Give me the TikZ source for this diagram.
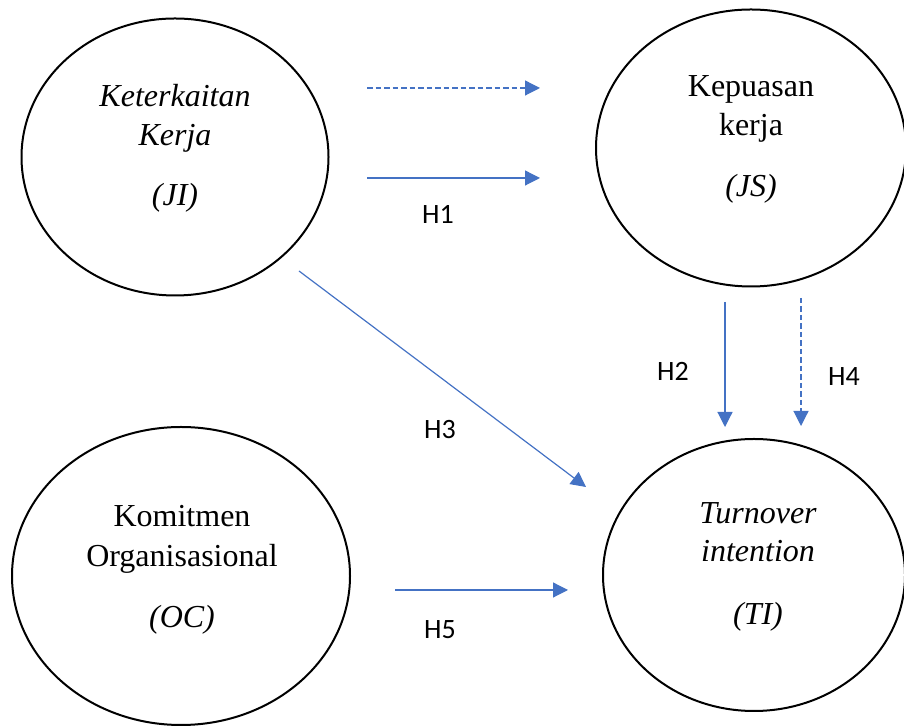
\documentclass[tikz,border=0pt]{standalone}
\usepackage{fontspec}
\setmainfont{Liberation Serif}
\newfontfamily\labfont{Carlito}
\usetikzlibrary{shapes.geometric,arrows.meta}
\definecolor{arrowblue}{HTML}{4472C4}
\tikzset{
  construct/.style={ellipse, draw=black, line width=2pt, inner sep=0pt},
  ctext/.style={anchor=base, inner sep=0pt, font=\fontsize{32}{38}\selectfont},
  hlabel/.style={inner sep=0pt, font=\labfont\fontsize{28}{32}\selectfont},
  link/.style={draw=arrowblue, line width=1.2pt, -{Triangle[length=15pt,width=15pt]}},
  dashlink/.style={link, dash pattern=on 5.5pt off 3pt},
}
\begin{document}
\begin{tikzpicture}[x=1pt,y=1pt]
\useasboundingbox (0,0) rectangle (904,727);
% ellipses (y = 727 - image y)
\node[construct, minimum width=307pt, minimum height=277pt] (JI) at (175,570) {};
\node[construct, minimum width=310pt, minimum height=277pt] (JS) at (751,579) {};
\node[construct, minimum width=338pt, minimum height=298pt] (OC) at (181,151) {};
\node[construct, minimum width=302pt, minimum height=272pt] (TI) at (754,152) {};
% texts
\node[ctext] (ji1) at (175,620) {\itshape Keterkaitan};
\node[ctext] (ji2) at (175,581) {\itshape Kerja};
\node[ctext] (ji3) at (175,521) {\itshape (JI)};
\node[ctext] (js1) at (751,630) {Kepuasan};
\node[ctext] (js2) at (751,591) {kerja};
\node[ctext] (js3) at (751,530) {\itshape (JS)};
\node[ctext] (oc1) at (182,200) {Komitmen};
\node[ctext] (oc2) at (182,160) {Organisasional};
\node[ctext] (oc3) at (182,99) {\itshape (OC)};
\node[ctext] (ti1) at (758,203) {\itshape Turnover};
\node[ctext] (ti2) at (758,165) {\itshape intention};
\node[ctext] (ti3) at (758,102) {\itshape (TI)};
% arrow end points
\coordinate (d1s) at (367,639);
\coordinate (d1e) at (540,639);
\coordinate (h1s) at (367,549);
\coordinate (h1e) at (540,549);
\coordinate (h3s) at (299,456);
\coordinate (h3e) at (586,240);
\coordinate (h2s) at (725,425);
\coordinate (h2e) at (725,300);
\coordinate (h4s) at (801,429);
\coordinate (h4e) at (801,301);
\coordinate (h5s) at (395,137);
\coordinate (h5e) at (568,137);
% connectors
\draw[dashlink] (d1s) -- (d1e);
\draw[link] (h1s) -- (h1e);
\draw[link] (h3s) -- (h3e);
\draw[link] (h2s) -- (h2e);
\draw[dashlink] (h4s) -- (h4e);
\draw[link] (h5s) -- (h5e);
% labels
\node[hlabel] (H1) at (438,512) {H1};
\node[hlabel] (H2) at (673,356) {H2};
\node[hlabel] (H3) at (440,297) {H3};
\node[hlabel] (H4) at (844,350) {H4};
\node[hlabel] (H5) at (440,97) {H5};
\end{tikzpicture}
\end{document}
